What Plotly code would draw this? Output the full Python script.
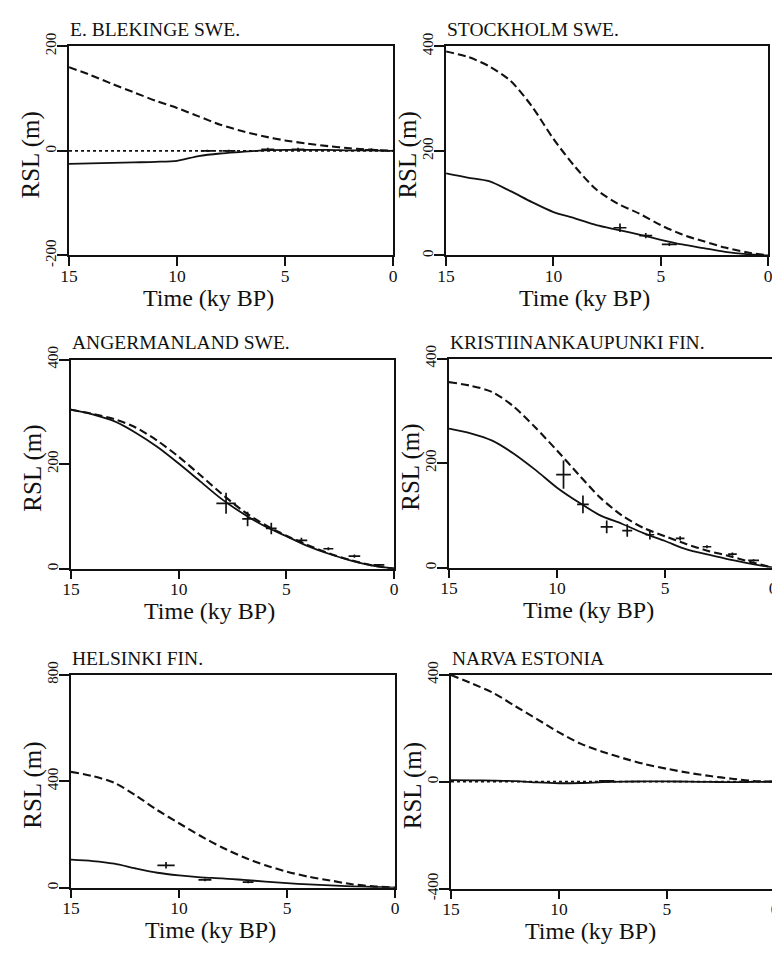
import plotly.graph_objects as go

# Page is drawn with an 8px body margin, so the figure is sized to fill the 780x959 window.
OFF = 8
W, H = 780 - OFF, 959 - OFF
FONT = "Liberation Serif"
INK = "#111111"

# ---------------- data ----------------
time_ky = [15, 14, 13, 12, 11, 10, 9, 8, 7, 6, 5, 4, 3, 2, 1, 0]
x_ticks = [15, 10, 5, 0]

names = ["E. BLEKINGE SWE.", "STOCKHOLM SWE.", "ANGERMANLAND SWE.",
         "KRISTIINANKAUPUNKI FIN.", "HELSINKI FIN.", "NARVA ESTONIA"]

blekinge_dashed = [160, 145, 128, 112, 96, 82, 66, 50, 38, 28, 20, 14, 9, 5, 2, 0]
blekinge_solid = [-25, -24, -23, -22, -21, -19, -10, -5, -2, 1, 2, 2, 2, 1, 1, 0]
blekinge_obs_t = [8.6, 7.6, 5.8, 4.4, 1.0]
blekinge_obs_y = [0, 0, 3, 3, 2]
blekinge_obs_et = [0.3, 0.3, 0.3, 0.3, 0.3]
blekinge_obs_ey = [2, 2, 3, 3, 3]

stockholm_dashed = [390, 380, 362, 334, 285, 223, 170, 126, 99, 80, 58, 40, 27, 15, 6, 0]
stockholm_solid = [157, 149, 142, 123, 102, 83, 71, 58, 49, 40, 30, 21, 14, 7, 2.5, 0]
stockholm_obs_t = [6.9, 5.7, 4.6]
stockholm_obs_y = [53, 38, 21]
stockholm_obs_et = [0.3, 0.3, 0.35]
stockholm_obs_ey = [8, 5, 3]

anger_dashed = [304, 296, 286, 270, 245, 214, 179, 143, 110, 84, 63, 45, 29, 16, 6, 0]
anger_solid = [304, 295, 282, 260, 233, 201, 167, 133, 105, 81, 62, 43, 28, 15.5, 6, 0]
anger_obs_t = [7.8, 6.8, 5.7, 4.3, 3.05, 1.84, 0.7]
anger_obs_y = [125, 95, 77, 54, 38, 24, 7]
anger_obs_et = [0.45, 0.25, 0.25, 0.27, 0.23, 0.27, 0.25]
anger_obs_ey = [20, 14, 11, 5, 3, 3, 2]

krist_dashed = [355, 348, 336, 308, 268, 224, 178, 134, 100, 76, 60, 45, 32, 22, 10.5, 0]
krist_solid = [266, 257, 243, 218, 187, 153, 125, 100, 84, 66, 51, 35, 25, 15.5, 7.4, 0]
krist_obs_t = [9.7, 8.8, 7.7, 6.75, 5.7, 4.3, 3.06, 1.88, 0.9]
krist_obs_y = [178, 121, 78, 71, 63, 56, 40, 26, 14]
krist_obs_et = [0.34, 0.27, 0.28, 0.23, 0.2, 0.2, 0.2, 0.2, 0.25]
krist_obs_ey = [27, 17, 12, 12, 9, 4, 3, 3, 2]

helsinki_dashed = [435, 419, 394, 346, 291, 242, 194, 151, 114, 84, 60, 41, 27, 13, 5, 0]
helsinki_solid = [105, 100, 90, 72, 56, 46, 39, 35, 29, 23, 17, 12, 8.5, 5, 2.5, 0]
helsinki_obs_t = [10.6, 8.8, 6.8]
helsinki_obs_y = [84, 29, 21]
helsinki_obs_et = [0.4, 0.3, 0.25]
helsinki_obs_ey = [12, 5, 4]

narva_dashed = [399, 366, 330, 281, 233, 184, 142, 112, 87, 65, 48, 33, 21, 11, 2.5, 0]
narva_solid = [6, 5, 4, 2, -3, -6, -5, -2, 0, 1, 1, 0, -1, -2, -1, 0]
narva_obs_t = [7.8]
narva_obs_y = [3]
narva_obs_et = [0.35]
narva_obs_ey = [3]

y_ranges = [[-200, 200], [0, 400], [0, 400], [0, 400], [0, 800], [-400, 400]]
y_ticks = [[-200, 0, 200], [0, 200, 400], [0, 200, 400], [0, 200, 400],
           [0, 400, 800], [-400, 0, 400]]
zero_dotted = [True, False, False, False, False, True]

# ---------------- layout geometry (window pixels) ----------------
# (left, right, top, bottom)
boxes = [(61, 391, 33, 248), (445, 773, 33, 248),
         (63, 392, 355, 570), (448, 778, 354, 569),
         (63, 393, 679, 898), (450, 780, 679, 899)]

panels = [
    (blekinge_dashed, blekinge_solid, blekinge_obs_t, blekinge_obs_y, blekinge_obs_et, blekinge_obs_ey),
    (stockholm_dashed, stockholm_solid, stockholm_obs_t, stockholm_obs_y, stockholm_obs_et, stockholm_obs_ey),
    (anger_dashed, anger_solid, anger_obs_t, anger_obs_y, anger_obs_et, anger_obs_ey),
    (krist_dashed, krist_solid, krist_obs_t, krist_obs_y, krist_obs_et, krist_obs_ey),
    (helsinki_dashed, helsinki_solid, helsinki_obs_t, helsinki_obs_y, helsinki_obs_et, helsinki_obs_ey),
    (narva_dashed, narva_solid, narva_obs_t, narva_obs_y, narva_obs_et, narva_obs_ey),
]


def px(x):
    return min(max((x - OFF) / W, 0), 1)


def py(y):
    return min(max(1 - (y - OFF) / H, 0), 1)


fig = go.Figure()
layout = dict(width=W, height=H, margin=dict(l=0, r=0, t=0, b=0),
              paper_bgcolor="white", plot_bgcolor="white", showlegend=False,
              font=dict(family=FONT, color=INK))
annotations = []
shapes = []

for i, (box, data) in enumerate(zip(boxes, panels)):
    n = i + 1
    xa = "x" if n == 1 else f"x{n}"
    ya = "y" if n == 1 else f"y{n}"
    l, r, t, b = box
    dashed, solid, ot, oy, oet, oey = data

    layout[f"xaxis{'' if n == 1 else n}"] = dict(
        domain=[px(l), px(r)], anchor=ya, range=[15, 0],
        tickvals=x_ticks, ticktext=[str(v) for v in x_ticks],
        ticks="outside", ticklen=9, tickwidth=1.5, tickcolor=INK,
        ticklabelstandoff=-5,
        showline=True, mirror=True, linecolor=INK, linewidth=1.6,
        showgrid=False, zeroline=False,
        tickfont=dict(family=FONT, size=17.5, color=INK))
    layout[f"yaxis{'' if n == 1 else n}"] = dict(
        domain=[py(b), py(t)], anchor=xa, range=y_ranges[i],
        tickvals=y_ticks[i], ticktext=[str(v) for v in y_ticks[i]],
        tickangle=-90, ticks="outside", ticklen=10, tickwidth=1.5, tickcolor=INK,
        ticklabelstandoff=-5,
        showline=True, mirror=True, linecolor=INK, linewidth=1.6,
        showgrid=False, zeroline=False,
        tickfont=dict(family=FONT, size=15, color=INK))

    if zero_dotted[i]:
        shapes.append(dict(type="line", xref=f"{xa} domain", yref=ya,
                           x0=0, x1=1, y0=0, y1=0,
                           line=dict(color=INK, width=1.6, dash="dot")))

    fig.add_trace(go.Scatter(x=time_ky, y=dashed, xaxis=xa, yaxis=ya, mode="lines",
                             line=dict(color=INK, width=2.1, dash="8px,4px", shape="spline", smoothing=0.8),
                             hoverinfo="skip"))
    fig.add_trace(go.Scatter(x=time_ky, y=solid, xaxis=xa, yaxis=ya, mode="lines",
                             line=dict(color=INK, width=1.8, shape="spline", smoothing=0.8),
                             hoverinfo="skip"))
    fig.add_trace(go.Scatter(x=ot, y=oy, xaxis=xa, yaxis=ya, mode="markers",
                             marker=dict(size=0.1, color=INK),
                             error_x=dict(type="data", array=oet, width=0, thickness=1.7, color=INK),
                             error_y=dict(type="data", array=oey, width=0, thickness=1.7, color=INK),
                             hoverinfo="skip"))

    # panel title
    annotations.append(dict(text=names[i], xref="paper", yref="paper",
                            x=px(l - 1), y=py(t - 17), xanchor="left", yanchor="middle",
                            showarrow=False, font=dict(family=FONT, size=19.5, color=INK)))
    # x title
    annotations.append(dict(text="Time (ky BP)", xref="paper", yref="paper",
                            x=px((l + r) / 2 - 23), y=py(b + 44), xanchor="center", yanchor="middle",
                            showarrow=False, font=dict(family=FONT, size=24, color=INK)))
    # y title
    annotations.append(dict(text="RSL (m)", xref="paper", yref="paper",
                            x=px(l - 39), y=py((t + b) / 2 + 4), xanchor="center", yanchor="middle",
                            textangle=-90, showarrow=False,
                            font=dict(family=FONT, size=25, color=INK)))

layout["annotations"] = annotations
layout["shapes"] = shapes
fig.update_layout(**layout)
fig.write_html("out.html")
